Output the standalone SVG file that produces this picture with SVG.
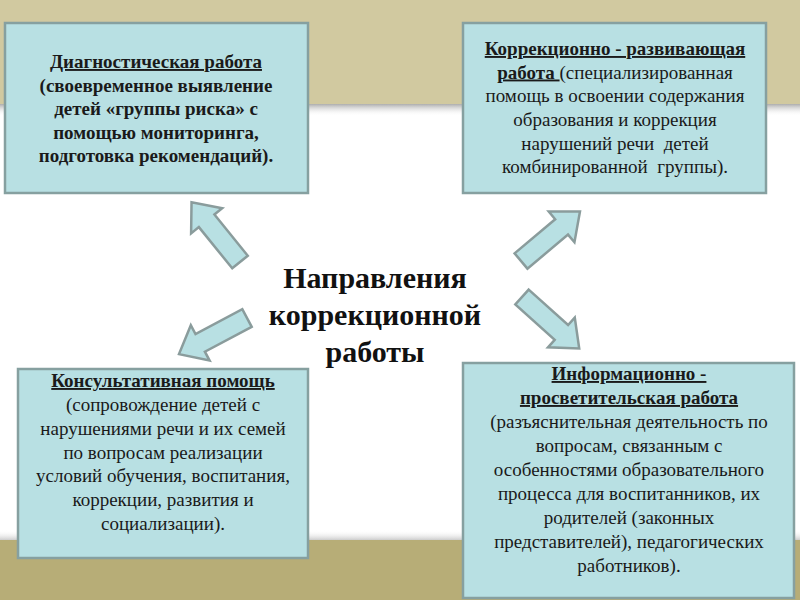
<svg xmlns="http://www.w3.org/2000/svg" width="800" height="600" viewBox="0 0 800 600">
<defs>
<linearGradient id="topShadow" x1="0" y1="0" x2="0" y2="1">
<stop offset="0" stop-color="#8a8a8a" stop-opacity="0.7"/>
<stop offset="1" stop-color="#ffffff" stop-opacity="0"/>
</linearGradient>
<linearGradient id="botShadow" x1="0" y1="0" x2="0" y2="1">
<stop offset="0" stop-color="#ffffff" stop-opacity="0"/>
<stop offset="1" stop-color="#9a9a9a" stop-opacity="0.5"/>
</linearGradient>
<path id="arrow" d="M0,-10 H53 V-20 L77,0 L53,20 V10 H0 Z"/>
<style>
.box{fill:#b8e0e3;stroke:#86a0a0;stroke-width:2.5}
.arr{fill:#b8e0e3;stroke:#8a9c9c;stroke-width:2.5}
.t{font-family:Liberation Serif,serif;font-size:19px;fill:#1a1a1a;text-anchor:middle}
.b{font-weight:bold}
.u{text-decoration:underline}
.title{font-family:Liberation Serif,serif;font-size:30px;font-weight:bold;fill:#111;text-anchor:middle}
</style>
</defs>
<rect x="0" y="0" width="800" height="600" fill="#ffffff"/>
<rect x="0" y="0" width="800" height="104" fill="#d1c9a0"/>
<rect x="0" y="104" width="800" height="12" fill="url(#topShadow)"/>
<rect x="0" y="530" width="800" height="10" fill="url(#botShadow)"/>
<rect x="0" y="540" width="800" height="60" fill="#b7ad77"/>

<g id="connectors">
<use href="#arrow" class="arr" transform="translate(240,262) rotate(-129)"/>
<use href="#arrow" class="arr" transform="translate(521,261) rotate(-40)"/>
<use href="#arrow" class="arr" transform="translate(247,318) rotate(152)"/>
<use href="#arrow" class="arr" transform="translate(522,297) rotate(42)"/>
</g>

<g id="center">
<text class="title" x="375" y="288">Направления</text>
<text class="title" x="375" y="325">коррекционной</text>
<text class="title" x="375" y="362">работы</text>
</g>

<g id="diagnostic">
<rect class="box" x="5" y="23" width="303" height="170"/>
<text class="t b" x="156" y="68"><tspan class="u">Диагностическая работа</tspan></text>
<text class="t b" x="156" y="91.5">(своевременное выявление</text>
<text class="t b" x="156" y="115">детей «группы риска» с</text>
<text class="t b" x="156" y="138.5">помощью мониторинга,</text>
<text class="t b" x="156" y="162">подготовка рекомендаций).</text>
</g>

<g id="correction">
<rect class="box" x="463" y="23" width="303" height="170"/>
<text class="t" x="615" y="55"><tspan class="b u">Коррекционно - развивающая</tspan></text>
<text class="t" x="615" y="78.5"><tspan class="b u">работа&#160;</tspan>(специализированная</text>
<text class="t" x="615" y="102">помощь в освоении содержания</text>
<text class="t" x="615" y="126">образования и коррекция</text>
<text class="t" x="615" y="150">нарушений речи &#160;детей</text>
<text class="t" x="615" y="173">комбинированной &#160;группы).</text>
</g>

<g id="consult">
<rect class="box" x="18" y="369" width="290" height="189"/>
<text class="t" x="163" y="387"><tspan class="b u">Консультативная помощь</tspan></text>
<text class="t" x="163" y="411">(сопровождение детей с</text>
<text class="t" x="163" y="435">нарушениями речи и их семей</text>
<text class="t" x="163" y="458.5">по вопросам реализации</text>
<text class="t" x="163" y="482">условий обучения, воспитания,</text>
<text class="t" x="163" y="506">коррекции, развития и</text>
<text class="t" x="163" y="530">социализации).</text>
</g>

<g id="inform">
<rect class="box" x="463" y="363" width="331" height="235"/>
<text class="t" x="629" y="380"><tspan class="b u">Информационно -</tspan></text>
<text class="t" x="629" y="404"><tspan class="b u">просветительская работа</tspan></text>
<text class="t" x="629" y="428">(разъяснительная деятельность по</text>
<text class="t" x="629" y="452">вопросам, связанным с</text>
<text class="t" x="629" y="476">особенностями образовательного</text>
<text class="t" x="629" y="500">процесса для воспитанников, их</text>
<text class="t" x="629" y="524">родителей (законных</text>
<text class="t" x="629" y="548">представителей), педагогических</text>
<text class="t" x="629" y="572">работников).</text>
</g>
</svg>
